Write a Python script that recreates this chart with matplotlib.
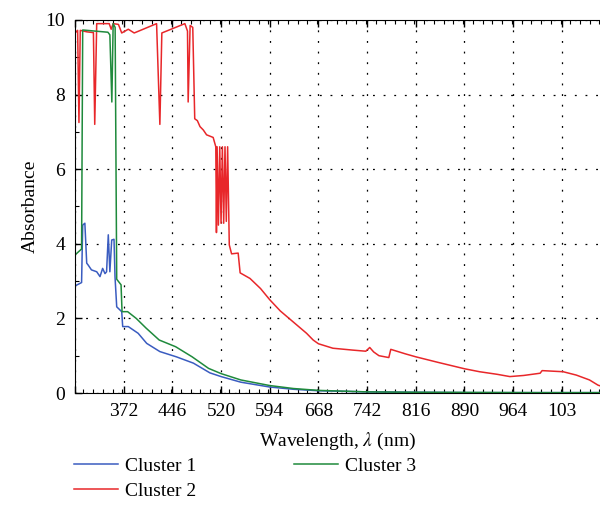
import numpy as np
import matplotlib.pyplot as plt
from matplotlib.ticker import MultipleLocator, FixedLocator

# Datos (longitud de onda en nm, absorbancia)
wl_c1 = [298, 308, 309.7, 313, 315.8, 318, 323, 331, 336, 340, 343.6, 346, 348.6,
         351, 353.8, 357.3, 358.8, 361.4, 369, 370.5, 379, 394, 407, 427, 452, 478,
         503, 520, 550, 594, 630, 668, 742, 816, 900, 1000, 1100]
abs_c1 = [2.87, 2.96, 4.5, 4.55, 3.48, 3.43, 3.3, 3.25, 3.12, 3.34, 3.2, 3.25, 4.24,
          3.25, 4.1, 4.12, 3.12, 2.31, 2.18, 1.78, 1.78, 1.6, 1.33, 1.11, 0.97, 0.8,
          0.54, 0.44, 0.29, 0.16, 0.1, 0.06, 0.03, 0.02, 0.01, 0.01, 0.01]

wl_c2 = [298, 302, 304, 306, 316, 326, 328, 331, 350, 353, 356, 364, 369, 379, 388,
         422, 427, 430, 465, 469, 470, 473, 477, 480, 484, 488, 493, 498, 508, 512,
         513, 514, 516, 518, 520, 522, 524, 526, 528, 530, 532.5, 536, 546, 549, 564,
         580, 594, 610, 630, 650, 660, 668, 690, 720, 740, 746, 752, 760, 775, 778,
         800, 816, 850, 890, 913, 940, 959, 980, 1005, 1008, 1040, 1060, 1080, 1093, 1100]
abs_c2 = [9.65, 9.72, 7.25, 9.72, 9.68, 9.66, 7.2, 9.9, 9.9, 9.75, 9.9, 9.88, 9.65, 9.75, 9.65,
          9.9, 7.2, 9.65, 9.9, 9.7, 7.8, 9.85, 9.8, 7.35, 7.3, 7.14, 7.05, 6.92, 6.85, 6.6,
          4.3, 6.6, 4.5, 6.6, 4.55, 6.6, 4.55, 6.6, 4.6, 6.6, 3.97, 3.73, 3.75, 3.22, 3.07,
          2.8, 2.5, 2.2, 1.9, 1.6, 1.42, 1.32, 1.2, 1.15, 1.12, 1.22, 1.1, 1.0, 0.95, 1.17,
          1.05, 0.97, 0.82, 0.65, 0.57, 0.5, 0.44, 0.47, 0.53, 0.6, 0.57, 0.48, 0.35, 0.21, 0.17]

wl_c3 = [298, 308, 309.7, 348, 351, 354, 356, 359, 361.4, 368, 369.5, 378, 391, 406,
         426, 451, 476, 501, 520, 550, 594, 630, 668, 742, 816, 1000, 1100]
abs_c3 = [3.7, 3.86, 9.73, 9.67, 9.6, 7.8, 9.9, 9.8, 3.05, 2.9, 2.18, 2.18, 2.0, 1.74,
          1.42, 1.24, 0.97, 0.66, 0.52, 0.35, 0.2, 0.12, 0.07, 0.03, 0.02, 0.01, 0.01]

x_ticks = [298, 372, 446, 520, 594, 668, 742, 816, 890, 964, 1038]
x_tick_labels = ['', '372', '446', '520', '594', '668', '742', '816', '890', '964', '103']

plt.rcParams['font.family'] = ['Liberation Serif', 'DejaVu Serif']
plt.rcParams['mathtext.fontset'] = 'stix'

fig = plt.figure(figsize=(6, 5.24), dpi=100)
ax = fig.add_axes([0.125, 0.25, 0.875, 0.712])

ax.plot(wl_c1, abs_c1, color='#3a5cc0', lw=1.1, label='Cluster 1')
ax.plot(wl_c2, abs_c2, color='#e8272a', lw=1.1, label='Cluster 2')
ax.plot(wl_c3, abs_c3, color='#1f8a3c', lw=1.1, label='Cluster 3')

ax.set_xlim(298, 1096)
ax.set_ylim(0, 10)

ax.xaxis.set_major_locator(FixedLocator(x_ticks))
ax.set_xticklabels(x_tick_labels)
ax.xaxis.set_minor_locator(MultipleLocator(14.8))
ax.yaxis.set_major_locator(MultipleLocator(2))
ax.yaxis.set_minor_locator(MultipleLocator(1))

ax.tick_params(which='both', direction='in', top=True, right=False, labelsize=14, pad=7)
ax.tick_params(which='major', length=5, width=1)
ax.tick_params(which='minor', length=3, width=0.8)
ax.spines['right'].set_visible(False)

ax.grid(True, which='major', color='black', linestyle=(0, (1.5, 7)), linewidth=0.9)

ax.set_xlabel(r'Wavelength, $\lambda$ (nm)', fontsize=14, labelpad=8)
ax.set_ylabel('Absorbance', fontsize=14, labelpad=5)

fig.legend(loc='upper left', bbox_to_anchor=(0.11, 0.142), ncol=2, frameon=False,
           fontsize=14, handlelength=2.3, handletextpad=0.35, columnspacing=5.0,
           labelspacing=0.36, borderaxespad=0)

fig.savefig('out.png', dpi=100)
